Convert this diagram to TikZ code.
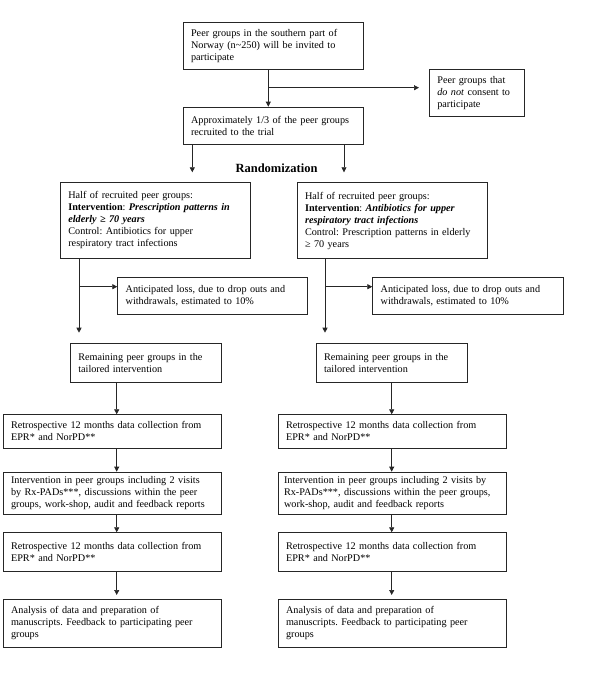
\documentclass[tikz,border=0pt]{standalone}
\usepackage{fontspec}
\setmainfont{Liberation Serif}
\usetikzlibrary{arrows.meta}
\frenchspacing

\begin{document}
\begin{tikzpicture}[x=1pt,y=-1pt,
    box/.style={draw=black!85, line width=0.7pt, anchor=north west, align=left,
      inner xsep=8pt, inner ysep=0pt, font=\fontsize{10.2}{12}\selectfont},
    arr/.style={draw=black!85, line width=0.7pt, -{Triangle[length=5pt,width=5pt]}}]
  \useasboundingbox (0,0) rectangle (600,674);

  % recruitment
  \node[box, text width=164.3pt, minimum height=47.3pt] (invite) at (182.7,21.7)
    {Peer groups in the southern part of\\ Norway (n\textasciitilde 250) will be invited to\\ participate};
  \node[box, text width=79.3pt, minimum height=47.3pt] (nogo) at (429,69)
    {Peer groups that\\ \textit{do not} consent to\\ participate};
  \node[box, text width=164.3pt, minimum height=37.3pt] (recruit) at (182.7,106.7)
    {Approximately 1/3 of the peer groups\\ recruited to the trial};
  \node[anchor=base, font=\fontsize{12.5}{14}\selectfont\bfseries] (rand) at (276.5,172.7) {Randomization};

  % the two arms
  \node[box, text width=174pt, minimum height=75.7pt] (armL) at (60,182.3)
    {Half of recruited peer groups:\\ \textbf{Intervention}: \textbf{\textit{Prescription patterns in}}\\
     \textbf{\textit{elderly ≥ 70 years}}\\ Control: Antibiotics for upper\\ respiratory tract infections};
  \node[box, text width=174pt, minimum height=76pt] (armR) at (296.7,182.3)
    {Half of recruited peer groups:\\ \textbf{Intervention}: \textbf{\textit{Antibiotics for upper}}\\
     \textbf{\textit{respiratory tract infections}}\\ Control: Prescription patterns in elderly\\ ≥ 70 years};
  \node[box, text width=173.4pt, minimum height=36.7pt] (lossL) at (117.3,277.3)
    {Anticipated loss, due to drop outs and\\ withdrawals, estimated to 10\%};
  \node[box, text width=174.4pt, minimum height=36.7pt] (lossR) at (372.3,277.3)
    {Anticipated loss, due to drop outs and\\ withdrawals, estimated to 10\%};
  \node[box, text width=134.7pt, minimum height=38.4pt] (remL) at (70,343.3)
    {Remaining peer groups in the\\ tailored intervention};
  \node[box, text width=135.6pt, minimum height=38.4pt] (remR) at (315.7,343.3)
    {Remaining peer groups in the\\ tailored intervention};
  \node[box, text width=202pt, minimum height=33.4pt] (retroL) at (2.7,414.3)
    {Retrospective 12 months data collection from\\ EPR* and NorPD**};
  \node[box, text width=212pt, minimum height=33.4pt] (retroR) at (277.7,414.3)
    {Retrospective 12 months data collection from\\ EPR* and NorPD**};
  \node[box, text width=202pt, minimum height=42.6pt] (intL) at (2.7,471.7)
    {Intervention in peer groups including 2 visits\\ by Rx-PADs***, discussions within the peer\\ groups, work-shop, audit and feedback reports};
  \node[box, inner xsep=6pt, text width=216pt, minimum height=42.6pt] (intR) at (277.7,471.7)
    {Intervention in peer groups including 2 visits by\\ Rx-PADs***, discussions within the peer groups,\\ work-shop, audit and feedback reports};
  \node[box, text width=202pt, minimum height=38.7pt] (postL) at (2.7,532.3)
    {Retrospective 12 months data collection from\\ EPR* and NorPD**};
  \node[box, text width=212pt, minimum height=38.7pt] (postR) at (277.7,532.3)
    {Retrospective 12 months data collection from\\ EPR* and NorPD**};
  \node[box, text width=202pt, minimum height=48.3pt] (anaL) at (2.7,599)
    {Analysis of data and preparation of\\ manuscripts. Feedback to participating peer\\ groups};
  \node[box, text width=212pt, minimum height=48.3pt] (anaR) at (277.7,599)
    {Analysis of data and preparation of\\ manuscripts. Feedback to participating peer\\ groups};

  % free ends and columns
  \coordinate (split) at (268.3,87.7);
  \coordinate (out) at (419,87.7);
  \coordinate (rl) at (192.3,172.3);
  \coordinate (rr) at (344,172.3);
  \coordinate (splitL) at (79,286.7);
  \coordinate (splitR) at (325,286.7);
  \coordinate (endL) at (79,332.7);
  \coordinate (endR) at (325,332.7);
  \coordinate (lx) at (116.7,0);
  \coordinate (rx) at (391.7,0);
  \coordinate (anaLin) at (116.7,595);
  \coordinate (anaRin) at (391.7,595);

  \draw[arr] (invite.south -| split) -- (recruit.north -| split);
  \draw[arr] (split) -- (out);
  \draw[arr] (recruit.south -| rl) -- (rl);
  \draw[arr] (recruit.south -| rr) -- (rr);

  \draw[arr] (armL.south -| endL) -- (endL);
  \draw[arr] (splitL) -- (splitL -| lossL.west);
  \draw[arr] (armR.south -| endR) -- (endR);
  \draw[arr] (splitR) -- (splitR -| lossR.west);

  \draw[arr] (remL.south -| lx) -- (retroL.north -| lx);
  \draw[arr] (retroL.south -| lx) -- (intL.north -| lx);
  \draw[arr] (intL.south -| lx) -- (postL.north -| lx);
  \draw[arr] (postL.south -| lx) -- (anaLin);
  \draw[arr] (remR.south -| rx) -- (retroR.north -| rx);
  \draw[arr] (retroR.south -| rx) -- (intR.north -| rx);
  \draw[arr] (intR.south -| rx) -- (postR.north -| rx);
  \draw[arr] (postR.south -| rx) -- (anaRin);
\end{tikzpicture}
\end{document}
